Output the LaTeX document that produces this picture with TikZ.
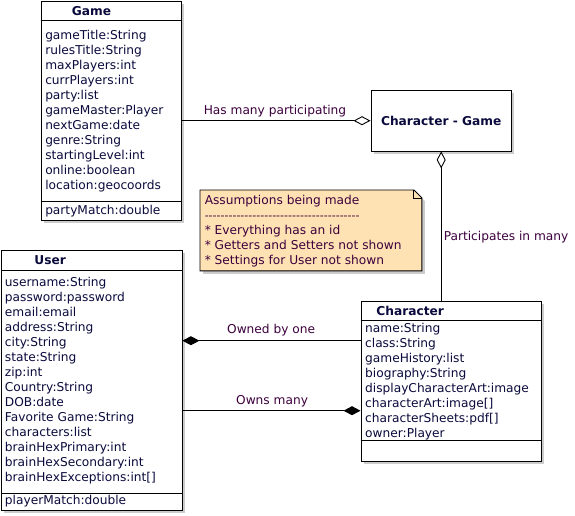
\documentclass[tikz,border=0pt]{standalone}
\usepackage{fontspec}
\setmainfont{DejaVu Sans}[Ligatures=TeXOff]
\usetikzlibrary{arrows.meta,shadows}

\definecolor{umltext}{RGB}{10,10,60}
\definecolor{umllabel}{RGB}{60,0,60}
\definecolor{notefill}{RGB}{255,226,180}

\begin{document}
\begin{tikzpicture}[x=1pt,y=-1pt,line width=0.9pt,
    every node/.style={inner sep=0,font=\fontsize{12.2}{15}\selectfont},
    cls/.style={draw,fill=white,anchor=north west,
      drop shadow={shadow xshift=3pt,shadow yshift=-3pt,fill=black!20,opacity=1}},
    attr/.style={anchor=base west,text=umltext},
    ttl/.style={anchor=base west,text=umltext,font=\fontsize{12.2}{15}\selectfont\bfseries},
    lbl/.style={anchor=base west,text=umllabel},
    agg/.tip={Diamond[open,length=17pt,width=9pt]},
    comp/.tip={Diamond[length=17pt,width=9pt]}]
  \useasboundingbox (0,0) rectangle (575,515);

  % Game
  \node[cls,minimum width=140pt,minimum height=219.5pt] (game) at (40.5,0.5) {};
  \draw ([yshift=-20pt]game.north west) -- ([yshift=-20pt]game.north east)
        ([yshift=-201pt]game.north west) -- ([yshift=-201pt]game.north east);
  \node[ttl] (game-t) at (71.5,15) {Game};
  \foreach \a [count=\i] in {gameTitle:String,rulesTitle:String,maxPlayers:int,
      currPlayers:int,party:list,gameMaster:Player,nextGame:date,genre:String,
      startingLevel:int,online:boolean,location:geocoords}
    \node[attr] (game-\i) at (44.8,{24.3+15*\i}) {\a};
  \node[attr] (game-m) at (44.8,214.5) {partyMatch:double};

  % User
  \node[cls,minimum width=180.5pt,minimum height=260pt] (user) at (1,250) {};
  \draw ([yshift=-20pt]user.north west) -- ([yshift=-20pt]user.north east)
        ([yshift=-243pt]user.north west) -- ([yshift=-243pt]user.north east);
  \node[ttl] (user-t) at (34,264.3) {User};
  \foreach \a [count=\i] in {username:String,password:password,email:email,
      address:String,city:String,state:String,zip:int,Country:String,DOB:date,
      Favorite Game:String,characters:list,brainHexPrimary:int,
      brainHexSecondary:int,brainHexExceptions:int[]}
    \node[attr] (user-\i) at (4.5,{271.7+15*\i}) {\a};
  \node[attr] (user-m) at (4.5,504.3) {playerMatch:double};

  % Character
  \node[cls,minimum width=180pt,minimum height=160pt] (char) at (360.5,300.5) {};
  \draw ([yshift=-20pt]char.north west) -- ([yshift=-20pt]char.north east)
        ([yshift=-140pt]char.north west) -- ([yshift=-140pt]char.north east);
  \node[ttl] (char-t) at (376,315) {Character};
  \foreach \a [count=\i] in {name:String,class:String,gameHistory:list,
      biography:String,displayCharacterArt:image,characterArt:image[],
      characterSheets:pdf[],owner:Player}
    \node[attr] (char-\i) at (364.7,{317.7+15*\i}) {\a};

  % Character - Game
  \node[cls,minimum width=140.5pt,minimum height=60.5pt,
    font=\fontsize{12.2}{15}\selectfont\bfseries,text=umltext] (cg) at (370.5,90) {Character - Game};

  % note
  \node[anchor=north west,minimum width=221pt,minimum height=80pt] (note) at (200,190) {};
  \fill[black!20] ([shift={(3pt,-3pt)}]note.north west) -- ([shift={(-5pt,-3pt)}]note.north east)
    -- ([shift={(3pt,-11pt)}]note.north east) -- ([shift={(3pt,-3pt)}]note.south east)
    -- ([shift={(3pt,-3pt)}]note.south west) -- cycle;
  \draw[fill=notefill] (note.north west) -- ([xshift=-8pt]note.north east)
    -- ([yshift=-8pt]note.north east) -- (note.south east) -- (note.south west) -- cycle;
  \draw ([xshift=-8pt]note.north east) -- ([shift={(-8pt,-8pt)}]note.north east)
    -- ([yshift=-8pt]note.north east);
  \node[lbl] (note-1) at (204.3,204) {Assumptions being made};
  \node[lbl,font=\fontsize{11}{15}\selectfont] (note-2) at (204.3,219) {---------------------------------------};
  \node[lbl] (note-3) at (204.3,234) {* Everything has an id};
  \node[lbl] (note-4) at (204.3,249) {* Getters and Setters not shown};
  \node[lbl] (note-5) at (204.3,264) {* Settings for User not shown};

  % associations
  \coordinate (ownedby) at (270,340.7);
  \coordinate (owns) at (270,410.7);
  \draw[-agg] (game.east |- cg.west) -- (cg.west);
  \draw[agg-] (cg.south) -- (cg.south |- char.north);
  \draw[comp-] (user.east |- ownedby) -- (char.west |- ownedby);
  \draw[-comp] (user.east |- owns) -- (char.west |- owns);
  \node[lbl] (has) at (203.3,114.3) {Has many participating};
  \node[lbl] (part) at (443.3,240) {Participates in many};
  \node[lbl] (ownedby-l) at (226.7,333.7) {Owned by one};
  \node[lbl] (owns-l) at (235.7,404) {Owns many};
\end{tikzpicture}
\end{document}
